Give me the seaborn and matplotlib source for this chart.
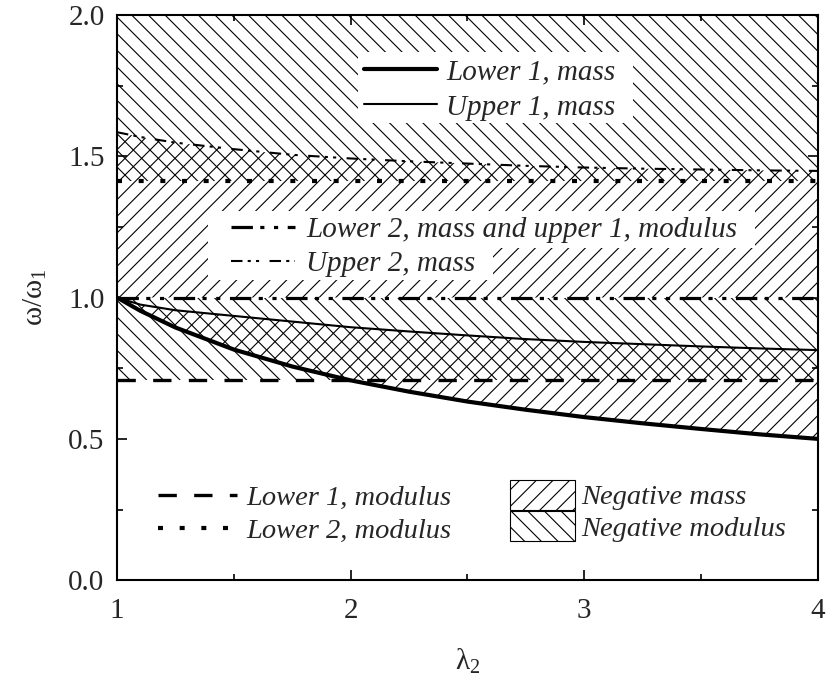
import numpy as np
import pandas as pd
import matplotlib
matplotlib.use("Agg")
import matplotlib.pyplot as plt
import seaborn as sns
from matplotlib.lines import Line2D
from matplotlib.patches import Patch, Rectangle
from matplotlib.ticker import MultipleLocator, FormatStrFormatter

# values
lam2 = [1.0, 1.1, 1.25, 1.5, 1.75, 2.0, 2.25, 2.5, 2.75, 3.0, 3.25, 3.5, 3.75, 4.0]
lower1_mass = [1.0, 0.953, 0.894, 0.816, 0.756, 0.707, 0.667, 0.632, 0.603, 0.577, 0.555, 0.535, 0.516, 0.5]
upper1_mass = [1.0, 0.975, 0.955, 0.935, 0.915, 0.895, 0.88, 0.866, 0.853, 0.843, 0.835, 0.827, 0.82, 0.814]
upper2_mass = [1.585, 1.568, 1.548, 1.525, 1.505, 1.492, 1.482, 1.474, 1.466, 1.46, 1.456, 1.453, 1.45, 1.448]
lower2_mass_upper1_mod = 1.0
lower1_mod = 0.707
lower2_mod = 1.414
y_max = 2.0

df = pd.DataFrame({"lam2": lam2, "lower1_mass": lower1_mass,
                   "upper1_mass": upper1_mass, "upper2_mass": upper2_mass})
df["lower2_mass_upper1_mod"] = lower2_mass_upper1_mod
df["lower1_mod"] = lower1_mod
df["lower2_mod"] = lower2_mod
df["top"] = y_max

sns.set_style("ticks")
plt.rcParams["font.family"] = ["Liberation Serif", "DejaVu Serif"]
plt.rcParams["mathtext.fontset"] = "custom"
plt.rcParams["mathtext.rm"] = "Liberation Serif"
plt.rcParams["mathtext.it"] = "Liberation Serif:italic"
plt.rcParams["hatch.linewidth"] = 0.8

fig = plt.figure(figsize=(8.27, 6.77), dpi=100)
ax = fig.add_axes([0.1415, 0.143, 0.8475, 0.835])

# hatched regions
neg_mass = "//"
neg_mod = "\\\\"
ax.fill_between(df.lam2, df.lower1_mass, df.upper1_mass, facecolor="none",
                edgecolor="k", hatch=neg_mass, linewidth=0, zorder=1)
ax.fill_between(df.lam2, df.lower2_mass_upper1_mod, df.upper2_mass, facecolor="none",
                edgecolor="k", hatch=neg_mass, linewidth=0, zorder=1)
ax.fill_between(df.lam2, df.lower1_mod, df.lower2_mass_upper1_mod, facecolor="none",
                edgecolor="k", hatch=neg_mod, linewidth=0, zorder=1)
ax.fill_between(df.lam2, df.lower2_mod, df.top, facecolor="none",
                edgecolor="k", hatch=neg_mod, linewidth=0, zorder=1)

# curves
st_l2m = dict(lw=2.3, linestyle=(0, (6.7, 2.3, 1.3, 3, 1.3, 3)))
st_u2m = dict(lw=1.5, linestyle=(0, (5.5, 2.5, 1.5, 2.5, 1.5, 5)))
st_l1d = dict(lw=2.4, linestyle=(0, (5.5, 5.2)))
st_l2d = dict(lw=3.0, linestyle=(0, (1.2, 4)))

sns.lineplot(data=df, x="lam2", y="lower1_mass", ax=ax, color="k", lw=3.0, zorder=3)
sns.lineplot(data=df, x="lam2", y="upper1_mass", ax=ax, color="k", lw=1.5, zorder=3)
sns.lineplot(data=df, x="lam2", y="lower2_mass_upper1_mod", ax=ax, color="k", zorder=3, **st_l2m)
sns.lineplot(data=df, x="lam2", y="upper2_mass", ax=ax, color="k", zorder=3, **st_u2m)
sns.lineplot(data=df, x="lam2", y="lower1_mod", ax=ax, color="k", zorder=3, **st_l1d)
sns.lineplot(data=df, x="lam2", y="lower2_mod", ax=ax, color="k", zorder=3, **st_l2d)

ax.set_xlim(1, 4)
ax.set_ylim(0, 2)
ax.xaxis.set_major_locator(MultipleLocator(1))
ax.xaxis.set_minor_locator(MultipleLocator(0.5))
ax.yaxis.set_major_locator(MultipleLocator(0.5))
ax.yaxis.set_minor_locator(MultipleLocator(0.25))
ax.yaxis.set_major_formatter(FormatStrFormatter("%.1f"))
ax.tick_params(which="both", direction="in", top=True, right=True, width=1.2, color="k")
ax.tick_params(which="major", length=7, labelsize=21, pad=9)
ax.tick_params(axis="x", which="major", pad=13)
ax.tick_params(which="minor", length=4)
for s in ax.spines.values():
    s.set_linewidth(1.5)
    s.set_color("k")

ax.set_xlabel(r"λ$_2$", fontsize=21, labelpad=16)
ax.set_ylabel(r"ω/ω$_1$", fontsize=21, labelpad=14)

# white backgrounds behind the legends inside the hatched area
for x0, y0, w, h in [(0.344, 0.809, 0.392, 0.126),
                     (0.130, 0.588, 0.780, 0.065),
                     (0.130, 0.531, 0.406, 0.058)]:
    ax.add_patch(Rectangle((x0, y0), w, h, transform=ax.transAxes,
                           facecolor="white", edgecolor="none", zorder=4))

font = {"family": "Liberation Serif", "style": "italic", "size": 21}
font_b = {"family": "Liberation Serif", "style": "italic", "size": 20.5}
common = dict(frameon=False, loc="upper left", borderaxespad=0, borderpad=0)

leg = ax.legend(handles=[Line2D([], [], color="k", lw=3.0), Line2D([], [], color="k", lw=1.5)],
                labels=["Lower 1, mass", "Upper 1, mass"], bbox_to_anchor=(0.353, 0.922),
                handlelength=2.5, handletextpad=0.3, labelspacing=0.3, prop=font, **common)
leg.set_zorder(5)
ax.add_artist(leg)

leg = ax.legend(handles=[Line2D([], [], color="k", **st_l2m), Line2D([], [], color="k", **st_u2m)],
                labels=["Lower 2, mass and upper 1, modulus", "Upper 2, mass"],
                bbox_to_anchor=(0.162, 0.643), handlelength=2.2, handletextpad=0.4,
                labelspacing=0.25, prop=font, **common)
leg.set_zorder(5)
ax.add_artist(leg)

leg = ax.legend(handles=[Line2D([], [], color="k", **st_l1d), Line2D([], [], color="k", **st_l2d)],
                labels=["Lower 1, modulus", "Lower 2, modulus"], bbox_to_anchor=(0.058, 0.169),
                handlelength=2.8, handletextpad=0.3, labelspacing=0.25, prop=font_b, **common)
ax.add_artist(leg)

leg = ax.legend(handles=[Patch(facecolor="white", edgecolor="k", hatch=neg_mass, lw=0.8),
                         Patch(facecolor="white", edgecolor="k", hatch=neg_mod, lw=0.8)],
                labels=["Negative mass", "Negative modulus"], bbox_to_anchor=(0.561, 0.178),
                handlelength=2.28, handleheight=1.25, handletextpad=0.2, labelspacing=0.03,
                prop=font_b, **common)

fig.savefig("out.png", dpi=100)
